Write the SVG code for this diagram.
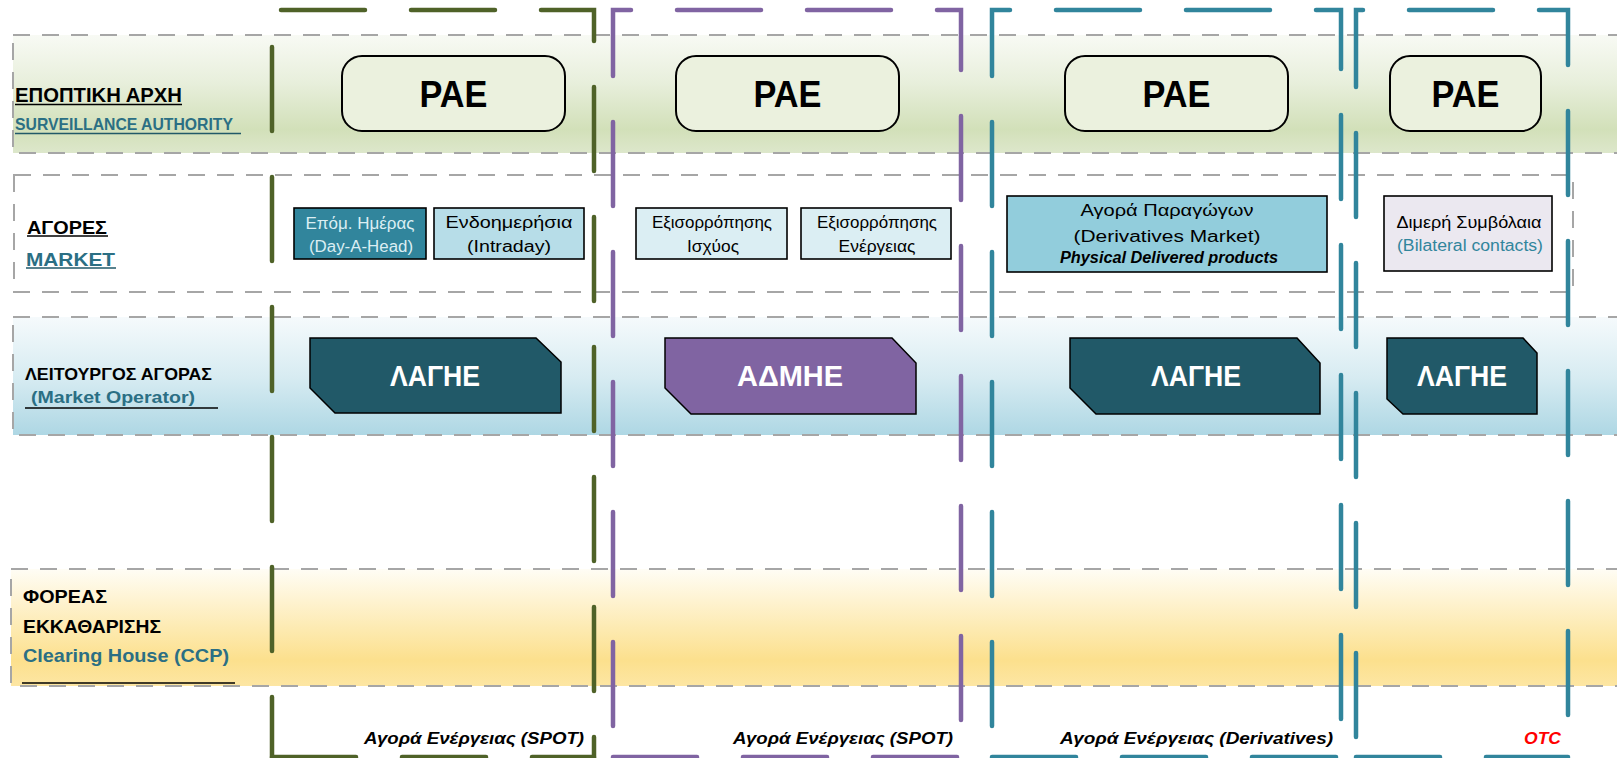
<svg xmlns="http://www.w3.org/2000/svg" width="1617" height="758" viewBox="0 0 1617 758">
<defs>
<linearGradient id="gSurv" x1="0" y1="0" x2="0" y2="1">
<stop offset="0" stop-color="#f8faf4"/><stop offset="0.4" stop-color="#e8efdc"/><stop offset="0.8" stop-color="#d2e0b9"/><stop offset="1" stop-color="#dde7cb"/>
</linearGradient>
<linearGradient id="gOper" x1="0" y1="0" x2="0" y2="1">
<stop offset="0" stop-color="#f5fafc"/><stop offset="0.5" stop-color="#d8ecf2"/><stop offset="1" stop-color="#aed7e4"/>
</linearGradient>
<linearGradient id="gClear" x1="0" y1="0" x2="0" y2="1">
<stop offset="0" stop-color="#fffdf5"/><stop offset="0.78" stop-color="#fce08d"/><stop offset="1" stop-color="#fde6a3"/>
</linearGradient>
<style>
.band{stroke:#a6a6a6;stroke-width:2;stroke-dasharray:17 12;}
.col{fill:none;stroke-width:4.5;stroke-linecap:round;stroke-dasharray:84 46;}
.green{stroke:#4f6228}.purple{stroke:#8064a2}.teal{stroke:#31859c}
.t{font-family:"Liberation Sans",Arial,sans-serif;}
.b{font-weight:bold}
.lbl{font-family:"Liberation Sans",Arial,sans-serif;font-weight:bold;fill:#000}
.lblc{font-family:"Liberation Sans",Arial,sans-serif;font-weight:bold;fill:#2b6f84}
.pae{fill:#ebf1de;stroke:#000;stroke-width:2}
.paet{font-family:"Liberation Sans",Arial,sans-serif;font-weight:bold;font-size:36px;fill:#000;text-anchor:middle}
.mk{stroke:#000;stroke-width:1.6}
.mt{font-family:"Liberation Sans",Arial,sans-serif;font-size:16px;fill:#000;text-anchor:middle}
.op{stroke:#000;stroke-width:1.5}
.opt{font-family:"Liberation Sans",Arial,sans-serif;font-weight:bold;font-size:29px;fill:#fff;text-anchor:middle}
.bot{font-family:"Liberation Sans",Arial,sans-serif;font-weight:bold;font-style:italic;font-size:16px;fill:#000}
.ul{stroke-width:1.5}
</style>
</defs>

<g id="bands">
<rect x="13" y="35" width="1620" height="118" fill="url(#gSurv)" class="band"/>
<rect x="14" y="175" width="1559" height="117" fill="#ffffff" class="band"/>
<rect x="13" y="317" width="1620" height="118" fill="url(#gOper)" class="band"/>
<rect x="11" y="569" width="1622" height="117" fill="url(#gClear)" class="band"/>
</g>

<g id="row-labels">
<text class="lbl" x="15" y="102" font-size="20" textLength="167" lengthAdjust="spacingAndGlyphs">ΕΠΟΠΤΙΚΗ ΑΡΧΗ</text>
<line x1="15" y1="104.5" x2="182" y2="104.5" stroke="#000" class="ul"/>
<text class="lblc" x="15" y="130" font-size="16.5" textLength="218" lengthAdjust="spacingAndGlyphs">SURVEILLANCE AUTHORITY</text>
<line x1="15" y1="133.5" x2="241" y2="133.5" stroke="#215968" class="ul"/>

<text class="lbl" x="27" y="234" font-size="19" textLength="80" lengthAdjust="spacingAndGlyphs">ΑΓΟΡΕΣ</text>
<line x1="27" y1="236" x2="108" y2="236" stroke="#000" class="ul"/>
<text class="lblc" x="26" y="266" font-size="18" textLength="89" lengthAdjust="spacingAndGlyphs">MARKET</text>
<line x1="26" y1="268" x2="116" y2="268" stroke="#215968" class="ul"/>

<text class="lbl" x="25" y="380" font-size="17" textLength="187" lengthAdjust="spacingAndGlyphs">ΛΕΙΤΟΥΡΓΟΣ ΑΓΟΡΑΣ</text>
<text class="lblc" x="31" y="403" font-size="17" textLength="164" lengthAdjust="spacingAndGlyphs">(Market Operator)</text>
<line x1="25" y1="408" x2="218" y2="408" stroke="#000" class="ul"/>

<text class="lbl" x="23" y="603" font-size="19" textLength="84" lengthAdjust="spacingAndGlyphs">ΦΟΡΕΑΣ</text>
<text class="lbl" x="23" y="633" font-size="19" textLength="138" lengthAdjust="spacingAndGlyphs">ΕΚΚΑΘΑΡΙΣΗΣ</text>
<text class="lblc" x="23" y="662" font-size="19" textLength="206" lengthAdjust="spacingAndGlyphs">Clearing House (CCP)</text>
<line x1="22" y1="683" x2="235" y2="683" stroke="#000" class="ul"/>
</g>

<g id="connectors">
<path class="col green" d="M272,10 H594 V757" stroke-dashoffset="121"/>
<path class="col green" d="M272,10 V757" stroke-dashoffset="93"/>
<path class="col green" d="M272,757 H594"/>
<path class="col purple" d="M613,76 V10 H961 V757"/>
<path class="col purple" d="M613,76 V757" stroke-dashoffset="84"/>
<path class="col purple" d="M613,757 H961"/>
<path class="col teal" d="M992,76 V10 H1341 V757"/>
<path class="col teal" d="M992,76 V757" stroke-dashoffset="84"/>
<path class="col teal" d="M992,757 H1341"/>
<path class="col teal" d="M1356,87 V10 H1568 V757"/>
<path class="col teal" d="M1356,87 V757" stroke-dashoffset="84"/>
<path class="col teal" d="M1356,757 H1568"/>
</g>

<g id="pae-1"><rect class="pae" x="342" y="56" width="223" height="75" rx="20"/><text class="paet" x="453.5" y="107" textLength="68" lengthAdjust="spacingAndGlyphs">ΡΑΕ</text></g>
<g id="pae-2"><rect class="pae" x="676" y="56" width="223" height="75" rx="20"/><text class="paet" x="787.5" y="107" textLength="68" lengthAdjust="spacingAndGlyphs">ΡΑΕ</text></g>
<g id="pae-3"><rect class="pae" x="1065" y="56" width="223" height="75" rx="20"/><text class="paet" x="1176.5" y="107" textLength="68" lengthAdjust="spacingAndGlyphs">ΡΑΕ</text></g>
<g id="pae-4"><rect class="pae" x="1390" y="56" width="151" height="75" rx="20"/><text class="paet" x="1465.5" y="107" textLength="68" lengthAdjust="spacingAndGlyphs">ΡΑΕ</text></g>

<g id="mk-dayahead"><rect class="mk" x="294" y="208" width="132" height="51" fill="#31859c"/>
<text class="mt" x="360" y="229" fill="#dbeef3" style="fill:#dbeef3" textLength="109" lengthAdjust="spacingAndGlyphs">Επόμ. Ημέρας</text>
<text class="mt" x="361" y="252" style="fill:#dbeef3" textLength="104" lengthAdjust="spacingAndGlyphs">(Day-A-Head)</text></g>
<g id="mk-intraday"><rect class="mk" x="434" y="208" width="150" height="51" fill="#b7dde8"/>
<text class="mt" x="509" y="228" textLength="127" lengthAdjust="spacingAndGlyphs">Ενδοημερήσια</text>
<text class="mt" x="509" y="252" textLength="84" lengthAdjust="spacingAndGlyphs">(Intraday)</text></g>
<g id="mk-balpower"><rect class="mk" x="636" y="208" width="151" height="51" fill="#dbeef3"/>
<text class="mt" x="712" y="228" textLength="120" lengthAdjust="spacingAndGlyphs">Εξισορρόπησης</text>
<text class="mt" x="713" y="252" textLength="52" lengthAdjust="spacingAndGlyphs">Ισχύος</text></g>
<g id="mk-balenergy"><rect class="mk" x="801" y="208" width="150" height="51" fill="#dbeef3"/>
<text class="mt" x="877" y="228" textLength="120" lengthAdjust="spacingAndGlyphs">Εξισορρόπησης</text>
<text class="mt" x="877" y="252" textLength="77" lengthAdjust="spacingAndGlyphs">Ενέργειας</text></g>
<g id="mk-derivatives"><rect class="mk" x="1007" y="196" width="320" height="76" fill="#92cddc"/>
<text class="mt" x="1167" y="216" font-size="17" textLength="173" lengthAdjust="spacingAndGlyphs">Αγορά Παραγώγων</text>
<text class="mt" x="1167" y="242" font-size="17" textLength="187" lengthAdjust="spacingAndGlyphs">(Derivatives Market)</text>
<text class="mt" x="1169" y="263" font-size="14" font-weight="bold" font-style="italic" textLength="218" lengthAdjust="spacingAndGlyphs">Physical Delivered products</text></g>
<g id="mk-bilateral"><rect class="mk" x="1384" y="196" width="168" height="75" fill="#ebe8f0"/>
<text class="mt" x="1469" y="228" textLength="145" lengthAdjust="spacingAndGlyphs">Διμερή Συμβόλαια</text>
<text class="mt" x="1470" y="251" style="fill:#31859c" textLength="146" lengthAdjust="spacingAndGlyphs">(Bilateral contacts)</text></g>

<g id="op-lagie-1"><polygon class="op" points="310,338 536,338 561,362 561,413 335,413 310,388" fill="#215968"/><text class="opt" x="435" y="386" textLength="90" lengthAdjust="spacingAndGlyphs">ΛΑΓΗΕ</text></g>
<g id="op-admie"><polygon class="op" points="665,338 892,338 916,363 916,414 691,414 665,388" fill="#8064a2"/><text class="opt" x="790" y="386" textLength="106" lengthAdjust="spacingAndGlyphs">ΑΔΜΗΕ</text></g>
<g id="op-lagie-2"><polygon class="op" points="1070,338 1297,338 1320,363 1320,414 1096,414 1070,388" fill="#215968"/><text class="opt" x="1196" y="386" textLength="90" lengthAdjust="spacingAndGlyphs">ΛΑΓΗΕ</text></g>
<g id="op-lagie-3"><polygon class="op" points="1387,338 1523,338 1537,353 1537,414 1403,414 1387,399" fill="#215968"/><text class="opt" x="1462" y="386" textLength="90" lengthAdjust="spacingAndGlyphs">ΛΑΓΗΕ</text></g>

<g id="footer-labels">
<text class="bot" x="364" y="744" textLength="220" lengthAdjust="spacingAndGlyphs">Αγορά Ενέργειας (SPOT)</text>
<text class="bot" x="733" y="744" textLength="220" lengthAdjust="spacingAndGlyphs">Αγορά Ενέργειας (SPOT)</text>
<text class="bot" x="1060" y="744" textLength="273" lengthAdjust="spacingAndGlyphs">Αγορά Ενέργειας (Derivatives)</text>
<text class="bot" x="1524" y="744" fill="#ff0000" style="fill:#ff0000" textLength="37" lengthAdjust="spacingAndGlyphs">OTC</text>
</g>
</svg>
